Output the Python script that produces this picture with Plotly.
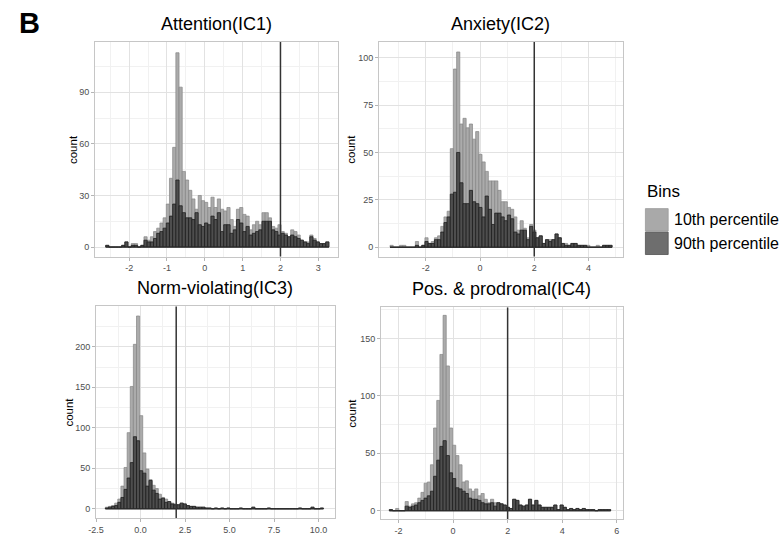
import plotly.graph_objects as go

W, H = 783, 536

# ---------------- data ----------------
panel_letter = "B"
y_title = "count"
legend_title = "Bins"
series_names = ["10th percentile", "90th percentile"]
cutoff_value = 2

titles = ["Attention(IC1)", "Anxiety(IC2)", "Norm-violating(IC3)", "Pos. & prodromal(IC4)"]

# IC1 (Attention)
ic1_bin_start = -2.62
ic1_bin_width = 0.0843
ic1_p10 = [1, 0, 0, 0, 0, 1, 3, 0, 2, 2,
           0, 1, 6, 4, 6, 9, 11, 14, 17, 25,
           40, 58, 113, 93, 44, 39, 33, 28, 22, 30,
           27, 26, 23, 29, 23, 28, 22, 21, 23, 16,
           12, 22, 23, 19, 18, 10, 13, 15, 13, 20,
           20, 17, 12, 11, 13, 9, 8, 6, 10, 9,
           7, 4, 3, 3, 7, 5, 3, 2, 2, 3]
ic1_p90 = [1, 0, 0, 0, 0, 1, 3, 0, 1, 1,
           0, 1, 4, 3, 3, 5, 8, 9, 11, 14,
           18, 25, 39, 24, 20, 17, 17, 16, 20, 13,
           12, 14, 13, 18, 16, 20, 9, 13, 13, 8,
           10, 16, 14, 9, 12, 7, 8, 9, 10, 15,
           15, 15, 10, 9, 7, 8, 7, 6, 7, 6,
           5, 4, 3, 2, 6, 4, 3, 2, 2, 3]
ic1_xticks = [-2, -1, 0, 1, 2, 3]
ic1_xlabels = ["-2", "-1", "0", "1", "2", "3"]
ic1_yticks = [0, 30, 60, 90]
ic1_ylabels = ["0", "30", "60", "90"]

# IC2 (Anxiety)
ic2_bin_start = -3.32
ic2_bin_width = 0.117
ic2_p10 = [1, 0, 0, 1, 1, 0, 0, 0, 3, 0,
           1, 5, 2, 3, 5, 6, 11, 16, 19, 52,
           94, 103, 65, 68, 63, 65, 57, 61, 49, 45,
           40, 35, 35, 35, 30, 24, 24, 21, 20, 16,
           9, 14, 10, 5, 12, 9, 5, 6, 2, 4,
           4, 4, 7, 5, 2, 2, 1, 2, 2, 1,
           1, 1, 1, 0, 0, 1, 0, 1, 1, 1]
ic2_p90 = [0, 0, 0, 0, 0, 0, 0, 0, 1, 0,
           1, 3, 2, 2, 4, 4, 8, 13, 16, 28,
           29, 50, 34, 23, 23, 30, 24, 23, 21, 16,
           27, 20, 12, 18, 18, 16, 14, 17, 15, 8,
           7, 9, 9, 4, 11, 8, 5, 6, 2, 4,
           3, 4, 7, 5, 2, 1, 1, 2, 2, 1,
           1, 1, 0, 0, 0, 0, 0, 1, 1, 1]
ic2_xticks = [-2, 0, 2, 4]
ic2_xlabels = ["-2", "0", "2", "4"]
ic2_yticks = [0, 25, 50, 75, 100]
ic2_ylabels = ["0", "25", "50", "75", "100"]

# IC3 (Norm-violating)
ic3_bin_start = -1.98
ic3_bin_width = 0.175
ic3_p10 = [2, 3, 4, 7, 12, 28, 51, 94, 151, 203,
           238, 115, 69, 49, 36, 29, 25, 18, 14, 12,
           8, 7, 6, 5, 7, 6, 4, 3, 3, 2,
           2, 2, 1, 1, 0, 1, 0, 1, 0, 1,
           0, 0, 0, 1, 0, 0, 0, 2, 0, 0,
           0, 0, 1, 0, 0, 0, 0, 0, 0, 0,
           0, 0, 1, 0, 0, 0, 2, 0, 0, 1]
ic3_p90 = [1, 2, 3, 4, 8, 14, 24, 38, 57, 89,
           84, 47, 44, 28, 35, 23, 19, 12, 13, 8,
           9, 6, 5, 5, 7, 6, 4, 3, 3, 2,
           2, 2, 1, 1, 0, 1, 0, 1, 0, 1,
           0, 0, 0, 1, 0, 0, 0, 2, 0, 0,
           0, 0, 1, 0, 0, 0, 0, 0, 0, 0,
           0, 0, 1, 0, 0, 0, 2, 0, 0, 1]
ic3_xticks = [-2.5, 0, 2.5, 5, 7.5, 10]
ic3_xlabels = ["-2.5", "0.0", "2.5", "5.0", "7.5", "10.0"]
ic3_yticks = [0, 50, 100, 150, 200]
ic3_ylabels = ["0", "50", "100", "150", "200"]

# IC4 (Pos. & prodromal)
ic4_bin_start = -2.34
ic4_bin_width = 0.116
ic4_p10 = [1, 0, 2, 0, 0, 8, 4, 6, 7, 11,
           16, 24, 25, 40, 72, 96, 136, 170, 126, 72,
           57, 48, 40, 25, 26, 19, 17, 19, 13, 15,
           10, 7, 10, 7, 7, 6, 5, 3, 2, 10,
           9, 5, 4, 5, 10, 5, 9, 5, 3, 3,
           3, 3, 5, 1, 5, 3, 1, 2, 1, 2,
           1, 2, 1, 1, 1, 0, 1, 1, 1, 1]
ic4_p90 = [1, 0, 0, 0, 0, 4, 3, 4, 5, 7,
           9, 11, 13, 17, 30, 44, 56, 61, 48, 33,
           28, 20, 19, 17, 15, 11, 10, 10, 9, 7,
           6, 6, 7, 4, 7, 6, 5, 3, 2, 10,
           9, 5, 4, 5, 10, 5, 9, 5, 3, 3,
           3, 3, 5, 1, 5, 3, 1, 2, 1, 2,
           1, 2, 1, 1, 1, 0, 1, 1, 1, 1]
ic4_xticks = [-2, 0, 2, 4, 6]
ic4_xlabels = ["-2", "0", "2", "4", "6"]
ic4_yticks = [0, 50, 100, 150]
ic4_ylabels = ["0", "50", "100", "150"]

# ---------------- layout / style ----------------
FONT = "Liberation Sans, Arial, Helvetica, sans-serif"
LIGHT_FILL = "#ababab"
LIGHT_LINE = "#858585"
DARK_FILL = "#4e4e4e"
DARK_LINE = "#1f1f1f"
KEY_LIGHT = "#a9a9a9"
KEY_DARK = "#6e6e6e"

# panel boxes in pixels: left, top, right, bottom ; axis ranges
panels = [
    dict(title=titles[0], start=ic1_bin_start, w=ic1_bin_width, p10=ic1_p10, p90=ic1_p90,
         xt=ic1_xticks, xl=ic1_xlabels, yt=ic1_yticks, yl=ic1_ylabels,
         box=(88, 42, 333, 257), xr=[-2.9, 3.51], yr=[-5.5, 119.3], ytx=65.5),
    dict(title=titles[1], start=ic2_bin_start, w=ic2_bin_width, p10=ic2_p10, p90=ic2_p90,
         xt=ic2_xticks, xl=ic2_xlabels, yt=ic2_yticks, yl=ic2_ylabels,
         box=(375, 42, 621, 257), xr=[-3.72, 5.26], yr=[-4.9, 108.3], ytx=347),
    dict(title=titles[2], start=ic3_bin_start, w=ic3_bin_width, p10=ic3_p10, p90=ic3_p90,
         xt=ic3_xticks, xl=ic3_xlabels, yt=ic3_yticks, yl=ic3_ylabels,
         box=(89, 307, 330, 519), xr=[-2.5, 10.9], yr=[-11.4, 249.8], ytx=62),
    dict(title=titles[3], start=ic4_bin_start, w=ic4_bin_width, p10=ic4_p10, p90=ic4_p90,
         xt=ic4_xticks, xl=ic4_xlabels, yt=ic4_yticks, yl=ic4_ylabels,
         box=(377, 308, 621, 520), xr=[-2.64, 6.22], yr=[-7.2, 176.9], ytx=348),
]


def fx(px):
    return px / W


def fy(py):
    return 1 - py / H


def minor_vals(ticks):
    step = ticks[1] - ticks[0]
    vals = [ticks[0] - step / 2]
    for a, b in zip(ticks[:-1], ticks[1:]):
        vals.append((a + b) / 2)
    vals.append(ticks[-1] + step / 2)
    return vals


fig = go.Figure()
layout = dict(
    width=W, height=H, margin=dict(l=0, r=0, t=0, b=0),
    paper_bgcolor="white", plot_bgcolor="white",
    barmode="overlay", showlegend=False,
    font=dict(family=FONT, color="black"),
)
annotations = []
shapes = []

for k, p in enumerate(panels, start=1):
    xa = "x" if k == 1 else f"x{k}"
    ya = "y" if k == 1 else f"y{k}"
    n = len(p["p10"])
    centers = [p["start"] + p["w"] * (i + 0.5) for i in range(n)]
    edge_lo = p["start"]
    edge_hi = p["start"] + p["w"] * n

    fig.add_trace(go.Bar(x=centers, y=p["p10"], width=p["w"], xaxis=xa, yaxis=ya,
                         name=series_names[0], hoverinfo="skip",
                         marker=dict(color=LIGHT_FILL, line=dict(color=LIGHT_LINE, width=0.7))))
    fig.add_trace(go.Bar(x=centers, y=p["p90"], width=p["w"], xaxis=xa, yaxis=ya,
                         name=series_names[1], hoverinfo="skip",
                         marker=dict(color=DARK_FILL, line=dict(color=DARK_LINE, width=0.8))))
    fig.add_trace(go.Scatter(x=[edge_lo, edge_hi], y=[0, 0], mode="lines", xaxis=xa, yaxis=ya,
                             hoverinfo="skip", line=dict(color="#2a2a2a", width=1)))

    l, t, r, b = p["box"]
    common = dict(
        showgrid=True, gridcolor="#e2e2e2", gridwidth=0.8, zeroline=False,
        showline=True, mirror=True, linecolor="#c6c6c6", linewidth=1,
        ticks="outside", ticklen=3, tickwidth=0.8, tickcolor="#b5b5b5",
        tickfont=dict(family=FONT, size=9, color="#4d4d4d"),
        fixedrange=True,
    )
    layout["xaxis" if k == 1 else f"xaxis{k}"] = dict(
        common, domain=[fx(l), fx(r)], range=p["xr"], anchor=ya,
        tickmode="array", tickvals=p["xt"], ticktext=p["xl"],
        minor=dict(tickvals=minor_vals(p["xt"]), showgrid=True, gridcolor="#f1f1f1",
                   gridwidth=0.6, ticks=""),
    )
    layout["yaxis" if k == 1 else f"yaxis{k}"] = dict(
        common, domain=[fy(b), fy(t)], range=p["yr"], anchor=xa,
        tickmode="array", tickvals=p["yt"], ticktext=p["yl"],
        minor=dict(tickvals=minor_vals(p["yt"]), showgrid=True, gridcolor="#f1f1f1",
                   gridwidth=0.6, ticks=""),
    )

    # cutoff line
    shapes.append(dict(type="line", xref=xa, yref=f"{ya} domain", x0=cutoff_value, x1=cutoff_value,
                       y0=0, y1=1, line=dict(color="#333333", width=1.5), layer="above"))

    # panel title
    annotations.append(dict(text=p["title"], xref="paper", yref="paper",
                            x=fx((l + r) / 2), y=fy(t - 18), xanchor="center", yanchor="middle",
                            showarrow=False, font=dict(family=FONT, size=18, color="black")))
    # y axis title
    annotations.append(dict(text=y_title, xref="paper", yref="paper", textangle=-90,
                            x=fx(p["ytx"]), y=fy((t + b) / 2), xanchor="center", yanchor="middle",
                            showarrow=False, font=dict(family=FONT, size=11.5, color="black")))

# panel letter
annotations.append(dict(text=f"<b>{panel_letter}</b>", xref="paper", yref="paper",
                        x=fx(9), y=fy(23), xanchor="left", yanchor="middle", showarrow=False,
                        font=dict(family=FONT, size=29, color="black")))

# legend
annotations.append(dict(text=legend_title, xref="paper", yref="paper", x=fx(644), y=fy(192),
                        xanchor="left", yanchor="middle", showarrow=False,
                        font=dict(family=FONT, size=17, color="black")))
key_rows = [(209, 231.5, KEY_LIGHT, "#9a9a9a"), (232.5, 255, KEY_DARK, "#505050")]
for (y0, y1, fill, line), name in zip(key_rows, series_names):
    shapes.append(dict(type="rect", xref="paper", yref="paper", x0=fx(644), x1=fx(667),
                       y0=fy(y1), y1=fy(y0), fillcolor=fill, line=dict(color=line, width=0.8)))
    annotations.append(dict(text=name, xref="paper", yref="paper", x=fx(671), y=fy((y0 + y1) / 2),
                            xanchor="left", yanchor="middle", showarrow=False,
                            font=dict(family=FONT, size=16, color="black")))

layout["annotations"] = annotations
layout["shapes"] = shapes
fig.update_layout(**layout)

fig.write_html("out.html")
